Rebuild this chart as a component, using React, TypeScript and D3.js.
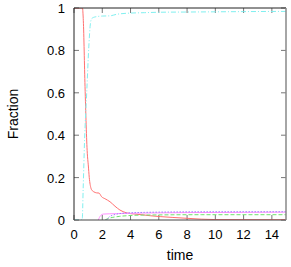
import React from "react";
import * as d3 from "d3";

const xTicks = [0, 2, 4, 6, 8, 10, 12, 14];
const yTicks = [0, 0.2, 0.4, 0.6, 0.8, 1];

const redT = [0, 0.6, 0.66, 0.78, 0.94, 1.01, 1.08, 1.2, 1.3, 1.4, 1.6, 1.77, 1.95, 2.2, 2.55, 2.9, 3.25, 3.7, 4.3, 4.9, 5.4, 6.1, 7, 8, 9, 10, 15];
const redV = [1, 1, 0.94, 0.63, 0.315, 0.26, 0.2, 0.15, 0.138, 0.133, 0.128, 0.127, 0.11, 0.1, 0.086, 0.065, 0.047, 0.034, 0.028, 0.024, 0.02, 0.016, 0.012, 0.008, 0.004, 0.002, 0.001];

const cyanT = [0, 0.58, 0.65, 0.75, 0.9, 1.05, 1.15, 1.25, 1.5, 2, 2.55, 3, 3.7, 5, 6.1, 8, 10, 12, 15];
const cyanV = [0, 0, 0.15, 0.38, 0.6, 0.82, 0.92, 0.95, 0.958, 0.962, 0.963, 0.97, 0.975, 0.978, 0.98, 0.981, 0.982, 0.983, 0.984];

const magT = [1.72, 1.8, 1.9, 2.07, 3, 5, 8, 12, 15];
const magV = [0, 0.012, 0.022, 0.028, 0.03, 0.033, 0.035, 0.036, 0.037];

const blueT = [2.3, 2.5, 2.8, 3.2, 4, 5, 7, 10, 15];
const blueV = [0, 0.015, 0.024, 0.03, 0.034, 0.036, 0.038, 0.039, 0.039];

const greenT = [2.2, 2.4, 2.7, 3.2, 3.7, 4.7, 6, 9, 15];
const greenV = [0, 0.007, 0.012, 0.017, 0.02, 0.023, 0.024, 0.025, 0.025];

const series = [
  { t: redT, v: redV, color: "#ff7070", dash: "none" },
  { t: greenT, v: greenV, color: "#70e070", dash: "4,2" },
  { t: magT, v: magV, color: "#ff90ff", dash: "none" },
  { t: blueT, v: blueV, color: "#a080ff", dash: "1.5,1.5" },
  { t: cyanT, v: cyanV, color: "#80f0f0", dash: "5,2,1,2" },
];

export default function App() {
  const W = 291, H = 267;
  const left = 74, right = 286, top = 8, bottom = 220;
  const x = d3.scaleLinear().domain([0, 15]).range([left, right]);
  const y = d3.scaleLinear().domain([0, 1]).range([bottom, top]);
  const font = "'Liberation Sans', Arial, sans-serif";
  return (
    <svg width={W} height={H} style={{ position: "absolute", left: 0, top: 0 }}>
      <rect width={W} height={H} fill="white" />
      <defs>
        <clipPath id="clip">
          <rect x={left} y={top} width={right - left} height={bottom - top} />
        </clipPath>
      </defs>
      {xTicks.map((t) => (
        <g key={"x" + t}>
          <line x1={x(t)} x2={x(t)} y1={bottom} y2={bottom - 5} stroke="#777" />
          <line x1={x(t)} x2={x(t)} y1={top} y2={top + 5} stroke="#777" />
          <text x={x(t)} y={bottom + 19} textAnchor="middle" fontFamily={font} fontSize={13} fill="#000">{t}</text>
        </g>
      ))}
      {yTicks.map((t) => (
        <g key={"y" + t}>
          <line x1={left} x2={left + 5} y1={y(t)} y2={y(t)} stroke="#777" />
          <line x1={right} x2={right - 5} y1={y(t)} y2={y(t)} stroke="#777" />
          <text x={left - 9} y={y(t) + 5} textAnchor="end" fontFamily={font} fontSize={13} fill="#000">{t}</text>
        </g>
      ))}
      <g clipPath="url(#clip)">
        {series.map((s, i) => {
          const pts: [number, number][] = s.t.map((tt, j) => [x(tt), y(s.v[j])]);
          const path = d3.line().curve(d3.curveMonotoneX)(pts) || "";
          return <path key={i} d={path} fill="none" stroke={s.color} strokeWidth={1} strokeDasharray={s.dash} />;
        })}
      </g>
      <line x1={left} x2={right} y1={top} y2={top} stroke="#222" />
      <line x1={left} x2={left} y1={top} y2={bottom} stroke="#222" />
      <line x1={left} x2={right} y1={bottom} y2={bottom} stroke="#444" />
      <line x1={right} x2={right} y1={top} y2={bottom} stroke="#888" strokeWidth={1.5} />
      <text x={180} y={260} textAnchor="middle" fontFamily={font} fontSize={14} fill="#000">time</text>
      <text transform={`translate(18,${(top + bottom) / 2}) rotate(-90)`} textAnchor="middle" fontFamily={font} fontSize={14} fill="#000">Fraction</text>
    </svg>
  );
}
